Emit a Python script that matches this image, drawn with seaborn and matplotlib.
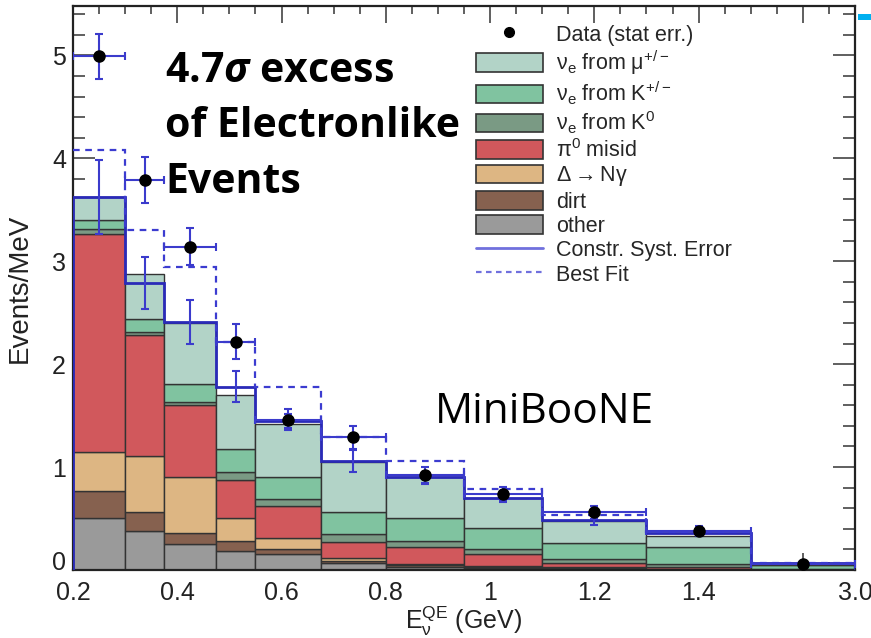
import numpy as np
import pandas as pd
import matplotlib
matplotlib.use("Agg")
import matplotlib.pyplot as plt
from matplotlib.patches import Patch, Rectangle
from matplotlib.lines import Line2D
import seaborn as sns

# ---------------- data ----------------
bin_edges = [0.2, 0.3, 0.375, 0.475, 0.55, 0.675, 0.8, 0.95, 1.1, 1.3, 1.5, 3.0]

components = ["nue_mu", "nue_Kpm", "nue_K0", "pi0", "delta", "dirt", "other"]
other  = [0.51, 0.38, 0.25, 0.185, 0.155, 0.07, 0.03, 0.02, 0.01, 0.005, 0.002]
dirt   = [0.26, 0.18, 0.11, 0.095, 0.045, 0.02, 0.02, 0.01, 0.01, 0.005, 0.002]
delta  = [0.38, 0.55, 0.54, 0.23, 0.11, 0.03, 0.01, 0.005, 0.005, 0.002, 0.001]
pi0    = [2.11, 1.17, 0.70, 0.36, 0.31, 0.15, 0.16, 0.125, 0.045, 0.018, 0.003]
nue_K0 = [0.05, 0.03, 0.03, 0.08, 0.07, 0.08, 0.06, 0.04, 0.04, 0.03, 0.004]
nue_Kpm= [0.09, 0.13, 0.18, 0.23, 0.21, 0.21, 0.23, 0.21, 0.15, 0.16, 0.038]
nue_mu = [0.22, 0.44, 0.59, 0.52, 0.52, 0.49, 0.39, 0.29, 0.22, 0.11, 0.01]

data_vals = [4.99, 3.79, 3.14, 2.22, 1.46, 1.29, 0.92, 0.74, 0.56, 0.38, 0.06]
data_errs = [0.22, 0.22, 0.18, 0.17, 0.10, 0.11, 0.08, 0.07, 0.06, 0.05, 0.02]

constr_vals = [3.62, 2.79, 2.41, 1.78, 1.45, 1.06, 0.90, 0.70, 0.49, 0.36, 0.07]
constr_errs = [0.36, 0.25, 0.21, 0.15, 0.07, 0.11, 0.05, 0.04, 0.05, 0.03, 0.01]

bestfit_vals = [4.08, 3.30, 2.94, 2.22, 1.78, 1.29, 1.06, 0.79, 0.53, 0.37, 0.07]

x_ticks = [0.2, 0.4, 0.6, 0.8, 1.0, 1.2, 1.4, 2.25, 3.0]
x_ticklabels = ["0.2", "0.4", "0.6", "0.8", "1", "1.2", "1.4", "", "3.0"]
y_ticks = [0, 1, 2, 3, 4, 5]

legend_labels = {
    "nue_mu": r"$\mathregular{\nu_e}$ from $\mathregular{\mu^{+/-}}$",
    "nue_Kpm": r"$\mathregular{\nu_e}$ from $\mathregular{K^{+/-}}$",
    "nue_K0": r"$\mathregular{\nu_e}$ from $\mathregular{K^0}$",
    "pi0": r"$\mathregular{\pi^0}$ misid",
    "delta": r"$\mathregular{\Delta \rightarrow N\gamma}$",
    "dirt": "dirt",
    "other": "other",
}
colors = {
    "nue_mu": "#b2d3c7",
    "nue_Kpm": "#80c3a0",
    "nue_K0": "#7a9a84",
    "pi0": "#d1585c",
    "delta": "#ddb683",
    "dirt": "#86614f",
    "other": "#9a9a9a",
}

# ---------------- styling ----------------
sns.set_style("ticks")
plt.rcParams["font.family"] = ["Liberation Sans", "DejaVu Sans"]
plt.rcParams["mathtext.fontset"] = "custom"
plt.rcParams["mathtext.rm"] = "Liberation Sans"
plt.rcParams["mathtext.it"] = "Open Sans:italic:bold"
plt.rcParams["mathtext.bf"] = "Open Sans:bold"

fig = plt.figure(figsize=(8.71, 6.38), dpi=100)
ax = fig.add_axes([73 / 871, 1 - 570 / 638, (855 - 73) / 871, (570 - 6) / 638])

edges = np.array(bin_edges)
centers = 0.5 * (edges[:-1] + edges[1:])

series = {"nue_mu": nue_mu, "nue_Kpm": nue_Kpm, "nue_K0": nue_K0, "pi0": pi0,
          "delta": delta, "dirt": dirt, "other": other}
df = pd.concat([pd.DataFrame({"E": centers, "w": series[c], "comp": c}) for c in components],
               ignore_index=True)

sns.histplot(data=df, x="E", weights="w", hue="comp", hue_order=components,
             bins=list(bin_edges), multiple="stack", element="bars", palette=colors,
             alpha=1, edgecolor="#333333", linewidth=1.0, legend=False, ax=ax)

# compressed scale above 1.5 GeV
def fwd(x):
    x = np.asarray(x, dtype=float)
    return np.where(x <= 1.5, x, 1.5 + (x - 1.5) * (0.2 / 1.5))

def inv(u):
    u = np.asarray(u, dtype=float)
    return np.where(u <= 1.5, u, 1.5 + (u - 1.5) * 7.5)

ax.set_xscale("function", functions=(fwd, inv))

blue = "#2a2ab8"
# constrained prediction with syst. errors
ax.stairs(constr_vals, edges, baseline=0, color=blue, lw=2.0, zorder=4)
ax.errorbar(centers, constr_vals, yerr=constr_errs, fmt="none", ecolor="#3b3bcc",
            elinewidth=1.5, capsize=3, capthick=1.5, zorder=4)
# best fit
ax.stairs(bestfit_vals, edges, baseline=None, color="#3c3cd0", lw=1.6,
          linestyle=(0, (3, 2.5)), zorder=4)
# data
xerr = np.vstack([centers - edges[:-1], edges[1:] - centers])
ax.errorbar(centers, data_vals, yerr=data_errs, xerr=xerr, fmt="o", color="black",
            ms=8, ecolor="#3b3bcc", elinewidth=1.5, capsize=3, capthick=1.5, zorder=5)

ax.set_xlim(0.2, 3.0)
ax.set_ylim(0, 5.48)
ax.set_xticks(x_ticks)
ax.set_xticklabels(x_ticklabels)
minor_disp = [round(v, 3) for v in np.arange(0.25, 1.7, 0.05)]
ax.set_xticks([float(inv(v)) for v in minor_disp if abs((v * 20) % 4) > 1e-6 and abs((v*20) % 4 - 4) > 1e-6], minor=True)
ax.set_yticks(y_ticks)
ax.set_yticks(np.arange(0, 5.5, 0.2), minor=True)
ax.set_axisbelow(True)

ax.tick_params(axis="both", which="both", direction="in", top=True, right=True,
               colors="#444444", labelcolor="#222222", labelsize=18)
ax.tick_params(axis="y", which="major", length=16, width=1.2, pad=5)
ax.tick_params(axis="y", which="minor", length=8.5, width=1.2)
ax.tick_params(axis="x", which="major", length=12, width=1.2, pad=8)
ax.tick_params(axis="x", which="minor", length=6, width=1.2)
for s in ax.spines.values():
    s.set_linewidth(1.6)
    s.set_color("#222222")
# keep the "0" label sitting just above the x-axis labels
ax.yaxis.get_major_ticks()[0].label1.set_verticalalignment("baseline")

ax.set_ylabel("Events/MeV", fontsize=20, color="#222222")
ax.yaxis.set_label_coords((33 - 73) / 782, 0.5)
ax.set_xlabel(r"$\mathregular{E_{\nu}^{QE}}$ (GeV)", fontsize=18, color="#222222")
ax.xaxis.set_label_coords(0.5, (570 - 605) / 564)

# legend
handles = [Line2D([], [], ls="none", marker="o", color="black", ms=7)]
labels = ["Data (stat err.)"]
for c in components:
    handles.append(Patch(facecolor=colors[c], edgecolor="#333333", lw=1.2))
    labels.append(legend_labels[c])
handles.append(Line2D([], [], color="#7070dd", lw=2))
labels.append("Constr. Syst. Error")
handles.append(Line2D([], [], color="#7070dd", lw=1.6, ls=(0, (2.5, 2))))
labels.append("Best Fit")
fig.legend(handles, labels, loc="upper left", bbox_to_anchor=(476 / 871, 1 - 24 / 638),
           frameon=False, fontsize=15.5, handlelength=3.1, handleheight=0.95,
           handletextpad=0.6, labelspacing=0.125, borderpad=0, borderaxespad=0)

# annotations
for txt, yb in [(r"4.7$\sigma$ excess", 82), ("of Electronlike", 137), ("Events", 193)]:
    fig.text(165 / 871, 1 - yb / 638, txt, fontsize=29.5, fontweight="bold",
             family="Open Sans", va="baseline", ha="left", color="black")
fig.text(435 / 871, 1 - 423 / 638, "MiniBooNE", fontsize=30.5, family="Open Sans",
         va="baseline", ha="left", color="black")

fig.add_artist(Rectangle((858 / 871, 1 - 20 / 638), 13 / 871, 6 / 638,
                         transform=fig.transFigure, color="#00b0f0", lw=0))

fig.savefig("out.png", dpi=100)
